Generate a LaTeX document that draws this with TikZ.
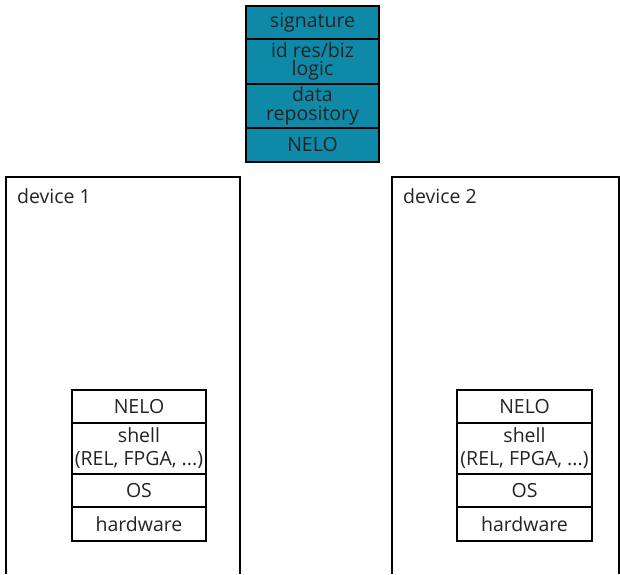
\documentclass[tikz,border=0pt]{standalone}
\usepackage{fontspec}
\setmainfont{Open Sans}
\definecolor{tealfill}{RGB}{14,138,168}
\definecolor{inkgray}{RGB}{35,35,35}
\begin{document}
\begin{tikzpicture}[x=1pt,y=-1pt,
  cell/.style={draw=black,line width=1.2pt,rectangle,inner sep=0pt,align=center,
    text=inkgray,font=\fontsize{19.5}{23}\selectfont},
  topcell/.style={cell,fill=tealfill,font=\fontsize{19.5}{18.5}\selectfont},
  devbox/.style={draw=black,line width=1.1pt},
  devlabel/.style={anchor=west,text=inkgray,font=\fontsize{19.5}{23}\selectfont,inner sep=0pt}]
\useasboundingbox (0,0) rectangle (620,574);
% top stack
\node[topcell,minimum width=133pt,minimum height=33pt] (sig) at (312.5,22.5) {signature};
\node[topcell,minimum width=133pt,minimum height=45pt] (idres) at (312.5,61.5) {id res/biz\\logic};
\node[topcell,minimum width=133pt,minimum height=44pt] (data) at (312.5,106) {data\\repository};
\node[topcell,minimum width=133pt,minimum height=34pt] (nelotop) at (312.5,145) {NELO};
% device boxes (open at the bottom)
\coordinate (d1bl) at (6,574);
\coordinate (d1tl) at (6,177);
\coordinate (d1tr) at (240,177);
\coordinate (d1br) at (240,574);
\draw[devbox] (d1bl) -- (d1tl) -- (d1tr) -- (d1br);
\coordinate (d2bl) at (392,574);
\coordinate (d2tl) at (392,177);
\coordinate (d2tr) at (619,177);
\coordinate (d2br) at (619,574);
\draw[devbox] (d2bl) -- (d2tl) -- (d2tr) -- (d2br);
\node[devlabel] (dev1) at (17,196) {device 1};
\node[devlabel] (dev2) at (403,196) {device 2};
% device 1 stack
\node[cell,minimum width=134pt,minimum height=33pt] (nelo1) at (139,406.5) {NELO};
\node[cell,minimum width=134pt,minimum height=51pt] (shell1) at (139,448.5) {shell\\(REL, FPGA, ...)};
\node[cell,minimum width=134pt,minimum height=33pt] (os1) at (139,490.5) {OS};
\node[cell,minimum width=134pt,minimum height=34pt] (hw1) at (139,524) {hardware};
% device 2 stack
\node[cell,minimum width=135pt,minimum height=33pt] (nelo2) at (524.5,406.5) {NELO};
\node[cell,minimum width=135pt,minimum height=51pt] (shell2) at (524.5,448.5) {shell\\(REL, FPGA, ...)};
\node[cell,minimum width=135pt,minimum height=33pt] (os2) at (524.5,490.5) {OS};
\node[cell,minimum width=135pt,minimum height=34pt] (hw2) at (524.5,524) {hardware};
\end{tikzpicture}
\end{document}
